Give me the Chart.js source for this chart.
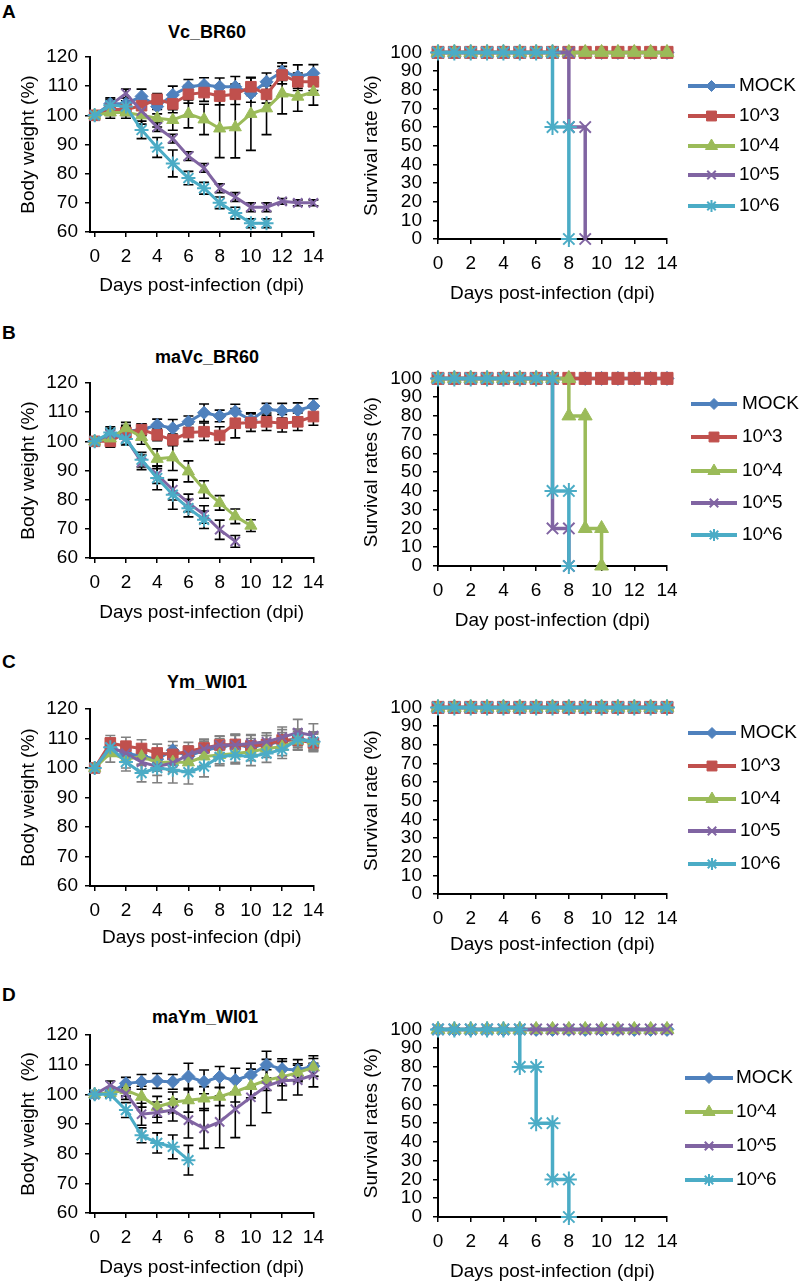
<!DOCTYPE html>
<html>
<head>
<meta charset="utf-8">
<script src="https://cdn.jsdelivr.net/npm/chart.js@4.4.1/dist/chart.umd.min.js"></script>
<style>
html,body{margin:0;padding:0;background:#fff;overflow:hidden;}
body{position:relative;width:800px;height:1282px;font-family:"Liberation Sans",Arial,sans-serif;color:#000;}
.letter{position:absolute;font-weight:bold;font-size:19px;line-height:20px;}
.title{position:absolute;width:220px;text-align:center;font-weight:bold;font-size:18px;line-height:20px;}
canvas{position:absolute;}
</style>
</head>
<body>
<div class="letter" style="left:2px;top:2px">A</div>
<div class="letter" style="left:2px;top:323px">B</div>
<div class="letter" style="left:2px;top:652px">C</div>
<div class="letter" style="left:2px;top:985px">D</div>
<div class="title" style="left:97px;top:22px">Vc_BR60</div>
<div class="title" style="left:97px;top:347px">maVc_BR60</div>
<div class="title" style="left:97px;top:672px">Ym_WI01</div>
<div class="title" style="left:95px;top:1007px">maYm_WI01</div>
<script>
// ---------------- data ----------------
const DAYS = [0,1,2,3,4,5,6,7,8,9,10,11,12,13,14];
const X_TICKS = [0,2,4,6,8,10,12,14];
const WEIGHT_TICKS = [60,70,80,90,100,110,120];
const SURVIVAL_TICKS = [0,10,20,30,40,50,60,70,80,90,100];
const GROUPS = ['MOCK','10^3','10^4','10^5','10^6'];

// Panel A body weight (%) and SD
const wA_mock = [100,104,104,106.5,103,107,109.8,110.4,109.8,109.8,107.5,111.5,115,113.3,114.4];
const wA_e3   = [100,102,102,103.3,105.5,103.9,107.2,107.8,106.6,107.2,109.8,107.2,113.8,111.5,111.5];
const wA_e4   = [100,101,101,100,99,98.4,100.5,98.6,95.5,95.9,100.5,102.4,107.5,106.4,108];
const wA_e5   = [100,103.5,107.5,101.5,96,92,86,82,75,72,68.5,68.5,70.5,70,70];
const wA_e6   = [100,103.5,103,95,89,83.5,78.5,75,70,66.5,63,63,null,null,null];
const eA_mock = [0,2,2,2.5,2.5,3,2.5,2.5,3,3.5,3,3,3,4,3];
const eA_e3   = [0,2,2,3,2,3,3,3,3,3.5,3,3,3,3,3];
const eA_e4   = [0,2,2,3,3,3.5,4.8,5.2,10,10.5,12.5,9,7,5,4.5];
const eA_e5   = [0,1.5,1.5,1.5,1.5,1.5,1.5,1.5,1.5,1.5,1.5,1.5,1,1,1];
const eA_e6   = [0,2,2,3,3.4,4.6,2.3,2,2,2,1.5,1.5,null,null,null];

// Panel B
const wB_mock = [100,102,103.5,104,105.6,104.5,106.7,109.8,108.7,110.2,107.3,111,110.5,110.7,112.1];
const wB_e3   = [100,100,103,104,102.2,100.5,103,103.3,102,106.2,106.4,106.7,106.2,106.7,108.5];
const wB_e4   = [100,101,104.5,101.5,94,94.5,89.7,83.5,78.9,74.3,71.1,null,null,null,null];
const wB_e5   = [100,102.5,101,92.8,88.6,83.4,78.9,74.9,69.7,65.7,null,null,null,null,null];
const wB_e6   = [100,103,100.8,93.7,87.4,81.7,77.1,73.1,null,null,null,null,null,null,null];
const eB_mock = [0,2,2,2,2,3,2,3,2,2.5,2.5,2,2.5,2.5,2.5];
const eB_e3   = [0,2,2,2,2,2,3,3,3,5,3,3,3,3,3];
const eB_e4   = [0,2,2,2.5,3.4,4.5,3.6,3,2.5,2.5,2,null,null,null,null];
const eB_e5   = [0,2,2,2.5,3,3.5,3,3,3.3,2,null,null,null,null,null];
const eB_e6   = [0,2,2,2.5,4,5,3,3,null,null,null,null,null,null,null];

// Panel C
const wC_mock = [100,107,105,104,103,106,104,106,107,108,107,108,109,110,109];
const wC_e3   = [100,108.5,107.4,106.6,105.1,104.6,105.7,106.8,107.8,108,107.5,108,109.5,109.5,108.5];
const wC_e4   = [100,105,103,103.9,101.9,102,101.9,103.9,104.4,104.9,105.5,106.6,107.2,109.3,109.3];
const wC_e5   = [100,107,105,102,100.5,101.7,104.5,106.5,107.8,107.8,108.3,108.9,110.4,112,111];
const wC_e6   = [100,107,102,98.3,100,99.4,98.6,100.5,103.8,104.4,103.8,104.9,106.2,109.7,108.9];
const eC_mock = [0,3,3,3,3,3,3,3,3,3,3,3,3,3,3];
const eC_e3   = [0,2.5,3,3,3,3,3,3,3,3.5,3.5,3,3.5,3.5,3];
const eC_e4   = [0,3,3,3,3,3,3,3,3,3,3,3,3,3,3];
const eC_e5   = [0,3,3,3,3,3,3,3,3,3.5,3,3,3.5,4.5,4];
const eC_e6   = [0,3,3,3,5,4.5,4,3.5,3,3,3,3,3,3.5,3];

// Panel D (no 10^3 group)
const wD_mock = [100,100.5,103.7,104.2,104.5,104.2,106,104.2,105.9,104.8,106.5,110,108.5,108.2,109.5];
const wD_e4   = [100,100.5,101.4,99.2,95.8,97.3,98,98.6,99.2,100.9,102.8,104.8,105.9,107.3,109.1];
const wD_e5   = [100,103,100.3,93.3,93.9,94.7,91.3,88.5,90.7,95,99,102.8,104.6,104.8,106.5];
const wD_e6   = [100,100,94.7,86.2,83.6,82.3,77.8,null,null,null,null,null,null,null,null];
const eD_mock = [0,1,2,2.5,2.5,2.5,4.5,4,3.5,4,4,4.5,3.5,3.5,3.5];
const eD_e4   = [0,1,2,3.5,3.5,3.5,4,4,3,3.5,4,3.5,3,3,3];
const eD_e5   = [0,1.5,2,3.7,3.5,3.7,6,6.7,8.7,9.6,9.5,9,6.5,5,4];
const eD_e6   = [0,1,2.5,2.5,3.4,4,5,null,null,null,null,null,null,null,null];

// Survival (%) – plain lists follow DAYS, [day, %] pairs give the steps
const sA_mock = [100,100,100,100,100,100,100,100,100,100,100,100,100,100,100];
const sA_e3   = [100,100,100,100,100,100,100,100,100,100,100,100,100,100,100];
const sA_e4   = [100,100,100,100,100,100,100,100,100,100,100,100,100,100,100];
const sA_e5   = [[0,100],[1,100],[2,100],[3,100],[4,100],[5,100],[6,100],[7,100],[8,100],[8,60],[9,60],[9,0]];
const sA_e6   = [[0,100],[1,100],[2,100],[3,100],[4,100],[5,100],[6,100],[7,100],[7,60],[8,60],[8,0]];

const sB_mock = [100,100,100,100,100,100,100,100,100,100,100,100,100,100,100];
const sB_e3   = [100,100,100,100,100,100,100,100,100,100,100,100,100,100,100];
const sB_e4   = [[0,100],[1,100],[2,100],[3,100],[4,100],[5,100],[6,100],[7,100],[8,100],[8,80],[9,80],[9,20],[10,20],[10,0]];
const sB_e5   = [[0,100],[1,100],[2,100],[3,100],[4,100],[5,100],[6,100],[7,100],[7,20],[8,20],[8,0]];
const sB_e6   = [[0,100],[1,100],[2,100],[3,100],[4,100],[5,100],[6,100],[7,100],[7,40],[8,40],[8,0]];

const sC_mock = [100,100,100,100,100,100,100,100,100,100,100,100,100,100,100];
const sC_e3   = [100,100,100,100,100,100,100,100,100,100,100,100,100,100,100];
const sC_e4   = [100,100,100,100,100,100,100,100,100,100,100,100,100,100,100];
const sC_e5   = [100,100,100,100,100,100,100,100,100,100,100,100,100,100,100];
const sC_e6   = [100,100,100,100,100,100,100,100,100,100,100,100,100,100,100];

const sD_mock = [100,100,100,100,100,100,100,100,100,100,100,100,100,100,100];
const sD_e4   = [100,100,100,100,100,100,100,100,100,100,100,100,100,100,100];
const sD_e5   = [100,100,100,100,100,100,100,100,100,100,100,100,100,100,100];
const sD_e6   = [[0,100],[1,100],[2,100],[3,100],[4,100],[5,100],[5,80],[6,80],[6,50],[7,50],[7,20],[8,20],[8,0]];

// ---------------- styles ----------------
const COLORS  = ['#4F81BD','#C0504D','#9BBB59','#8064A2','#4BACC6'];
const MARKERS = ['rectRot','rect','triangle','crossRot','star'];
const R_LEFT  = [6.5,7.5,7,6.5,7];
const R_RIGHT = [7,8.5,8,8,8];
const R_LEG   = [5.5,7,7,6,6];
const FONT = {family:'"Liberation Sans", Arial, sans-serif', size:19};

// ---------------- plugins ----------------
const errorBars = {
  id:'errorBars',
  beforeDatasetsDraw(chart, args, o) {
    if (!o || !o.color) return;
    const {ctx} = chart; const xs = chart.scales.x, ys = chart.scales.y;
    ctx.save();
    ctx.strokeStyle = o.color; ctx.lineWidth = o.width;
    chart.data.datasets.forEach(ds => {
      ds.data.forEach(p => {
        if (p.e == null || !p.e) return;
        const px = xs.getPixelForValue(p.x);
        const y1 = ys.getPixelForValue(p.y + p.e), y2 = ys.getPixelForValue(p.y - p.e);
        ctx.beginPath();
        ctx.moveTo(px, y1); ctx.lineTo(px, y2);
        ctx.moveTo(px - o.cap, y1); ctx.lineTo(px + o.cap, y1);
        ctx.moveTo(px - o.cap, y2); ctx.lineTo(px + o.cap, y2);
        ctx.stroke();
      });
    });
    ctx.restore();
  }
};
const seriesLegend = {
  id:'seriesLegend',
  afterDraw(chart, args, o) {
    if (!o || !o.ys) return;
    const ctx = chart.ctx;
    chart.data.datasets.forEach((ds, i) => {
      const y = o.ys[i];
      ctx.save();
      ctx.strokeStyle = ds.borderColor; ctx.lineWidth = o.lineWidth;
      ctx.beginPath(); ctx.moveTo(o.x1, y); ctx.lineTo(o.x2, y); ctx.stroke();
      ctx.fillStyle = ds.pointBackgroundColor; ctx.strokeStyle = ds.pointBorderColor;
      ctx.lineWidth = ds.pointBorderWidth;
      Chart.helpers.drawPoint(ctx, {pointStyle: ds.pointStyle, radius: ds.legendRadius, rotation: 0, borderWidth: ds.pointBorderWidth}, (o.x1 + o.x2) / 2, y);
      ctx.fillStyle = '#000';
      ctx.font = FONT.size + 'px ' + FONT.family;
      ctx.textBaseline = 'middle'; ctx.textAlign = 'left';
      ctx.fillText(ds.label, o.tx, y);
      ctx.restore();
    });
  }
};
Chart.register(errorBars, seriesLegend);

// ---------------- builders ----------------
function makeDataset(gi, points, radius, lineWidth) {
  return {
    label: GROUPS[gi], data: points,
    borderColor: COLORS[gi], backgroundColor: COLORS[gi],
    pointBackgroundColor: COLORS[gi], pointBorderColor: COLORS[gi],
    borderWidth: lineWidth, pointStyle: MARKERS[gi], pointRadius: radius[gi],
    pointBorderWidth: (MARKERS[gi] === 'crossRot' || MARKERS[gi] === 'star') ? 2 : 1,
    legendRadius: R_LEG[gi],
    tension: 0, clip: false, order: 10 - gi, spanGaps: false
  };
}
function weightSeries(gi, vals, errs) {
  const pts = [];
  DAYS.forEach((d, i) => { if (vals[i] != null) pts.push({x: d, y: vals[i], e: errs[i]}); });
  return makeDataset(gi, pts, R_LEFT, 3);
}
function survivalSeries(gi, s) {
  const pts = s.map((v, i) => Array.isArray(v) ? {x: v[0], y: v[1]} : {x: DAYS[i], y: v});
  return makeDataset(gi, pts, R_RIGHT, 3.5);
}

function createChart(c) {
  const el = document.createElement('canvas');
  el.width = c.cv.w; el.height = c.cv.h;
  el.style.left = c.cv.l + 'px'; el.style.top = c.cv.t + 'px';
  el.style.width = c.cv.w + 'px'; el.style.height = c.cv.h + 'px';
  document.body.appendChild(el);
  const yW = c.area.l - c.cv.l;
  const xH = c.cv.t + c.cv.h - c.area.b;
  const lh = FONT.size * 1.2;
  const plugins = {legend: {display: false}, tooltip: {enabled: false}, title: {display: false},
    errorBars: c.errColor ? {color: c.errColor, width: 1.6, cap: 5} : {},
    seriesLegend: c.legend ? {
      x1: c.legend.x1 - c.cv.l, x2: c.legend.x2 - c.cv.l, tx: c.legend.tx - c.cv.l,
      ys: c.legend.ys.map(v => v - c.cv.t), lineWidth: 4
    } : {}};
  const axisCommon = {
    border: {display: true, color: '#000', width: 2},
    grid: {display: true, drawOnChartArea: false, drawTicks: true, tickLength: 5, color: '#000', lineWidth: 1.5}
  };
  new Chart(el, {
    type: 'line',
    data: {datasets: c.datasets},
    options: {
      responsive: false, animation: false, devicePixelRatio: 1, events: [],
      layout: {padding: {left: 0, top: c.area.t - c.cv.t, right: c.cv.l + c.cv.w - c.area.r, bottom: 0}},
      plugins,
      scales: {
        x: Object.assign({}, axisCommon, {
          type: 'linear', min: c.xMin, max: 14,
          afterBuildTicks: s => { s.ticks = X_TICKS.map(v => ({value: v})); },
          afterFit: s => { s.height = xH; },
          ticks: {color: '#000', font: FONT, padding: 8, autoSkip: false, maxRotation: 0},
          title: {display: true, text: c.xTitle, color: '#000', font: FONT,
                  padding: {top: 0, bottom: xH - c.xTitleOff - lh / 2}}
        }),
        y: Object.assign({}, axisCommon, {
          type: 'linear', min: c.yTicks[0], max: c.yTicks[c.yTicks.length - 1],
          afterBuildTicks: s => { s.ticks = c.yTicks.map(v => ({value: v})); },
          afterFit: s => { s.width = yW; },
          ticks: {color: '#000', font: FONT, padding: c.yTickPad, autoSkip: false},
          title: {display: true, text: c.yTitle, color: '#000', font: FONT,
                  padding: {top: c.yTitleX - lh / 2, bottom: 0}}
        })
      }
    }
  });
}

// ---------------- layout ----------------
const LEFT_CV = {l: 0, w: 335};
const RIGHT_CV = {l: 340, w: 460};
function leftPanel(top, bottom, xTitle, yTitle, xOff, datasets, errColor) {
  createChart({cv: {l: LEFT_CV.l, w: LEFT_CV.w, t: top - 22, h: bottom - top + 22 + 68},
    area: {l: 90, r: 313.4, t: top, b: bottom}, xMin: -0.3, yTicks: WEIGHT_TICKS,
    xTitle, yTitle, xTitleOff: xOff, yTitleX: 29, yTickPad: 7, datasets, errColor});
}
function rightPanel(top, bottom, xTitle, yTitle, xOff, datasets, legend) {
  createChart({cv: {l: RIGHT_CV.l, w: RIGHT_CV.w, t: top - 22, h: bottom - top + 22 + 68},
    area: {l: 438, r: 667, t: top, b: bottom}, xMin: 0, yTicks: SURVIVAL_TICKS,
    xTitle, yTitle, xTitleOff: xOff, yTitleX: 32, yTickPad: 11, datasets, legend});
}

// Panel A
leftPanel(57, 232, 'Days post-infection (dpi)', 'Body weight (%)', 54, [
  weightSeries(0, wA_mock, eA_mock), weightSeries(1, wA_e3, eA_e3), weightSeries(2, wA_e4, eA_e4),
  weightSeries(3, wA_e5, eA_e5), weightSeries(4, wA_e6, eA_e6)], '#000');
rightPanel(52, 239, 'Days post-infection (dpi)', 'Survival rate (%)', 55, [
  survivalSeries(0, sA_mock), survivalSeries(1, sA_e3), survivalSeries(2, sA_e4),
  survivalSeries(3, sA_e5), survivalSeries(4, sA_e6)],
  {x1: 688, x2: 735, tx: 739, ys: [86, 116, 146, 175, 206]});

// Panel B
leftPanel(383, 558, 'Days post-infection (dpi)', 'Body weight (%)', 55, [
  weightSeries(0, wB_mock, eB_mock), weightSeries(1, wB_e3, eB_e3), weightSeries(2, wB_e4, eB_e4),
  weightSeries(3, wB_e5, eB_e5), weightSeries(4, wB_e6, eB_e6)], '#000');
rightPanel(378, 566, 'Day post-infection (dpi)', 'Survival rates (%)', 55, [
  survivalSeries(0, sB_mock), survivalSeries(1, sB_e3), survivalSeries(2, sB_e4),
  survivalSeries(3, sB_e5), survivalSeries(4, sB_e6)],
  {x1: 691, x2: 737, tx: 742, ys: [404, 437, 471, 503, 535]});

// Panel C
leftPanel(709, 886, 'Days post-infecion (dpi)', 'Body weight (%)', 52, [
  weightSeries(0, wC_mock, eC_mock), weightSeries(1, wC_e3, eC_e3), weightSeries(2, wC_e4, eC_e4),
  weightSeries(3, wC_e5, eC_e5), weightSeries(4, wC_e6, eC_e6)], '#808080');
rightPanel(707, 894, 'Days post-infection (dpi)', 'Survival rate (%)', 51, [
  survivalSeries(0, sC_mock), survivalSeries(1, sC_e3), survivalSeries(2, sC_e4),
  survivalSeries(3, sC_e5), survivalSeries(4, sC_e6)],
  {x1: 688, x2: 736, tx: 740, ys: [733, 766, 799, 831, 864]});

// Panel D
leftPanel(1035, 1213, 'Days post-infection (dpi)', 'Body weight  (%)', 55, [
  weightSeries(0, wD_mock, eD_mock), weightSeries(2, wD_e4, eD_e4),
  weightSeries(3, wD_e5, eD_e5), weightSeries(4, wD_e6, eD_e6)], '#000');
rightPanel(1029, 1217, 'Days post-infection (dpi)', 'Survival rates (%)', 55, [
  survivalSeries(0, sD_mock), survivalSeries(2, sD_e4),
  survivalSeries(3, sD_e5), survivalSeries(4, sD_e6)],
  {x1: 685, x2: 733, tx: 736, ys: [1078, 1112, 1146, 1180]});
</script>
</body>
</html>
